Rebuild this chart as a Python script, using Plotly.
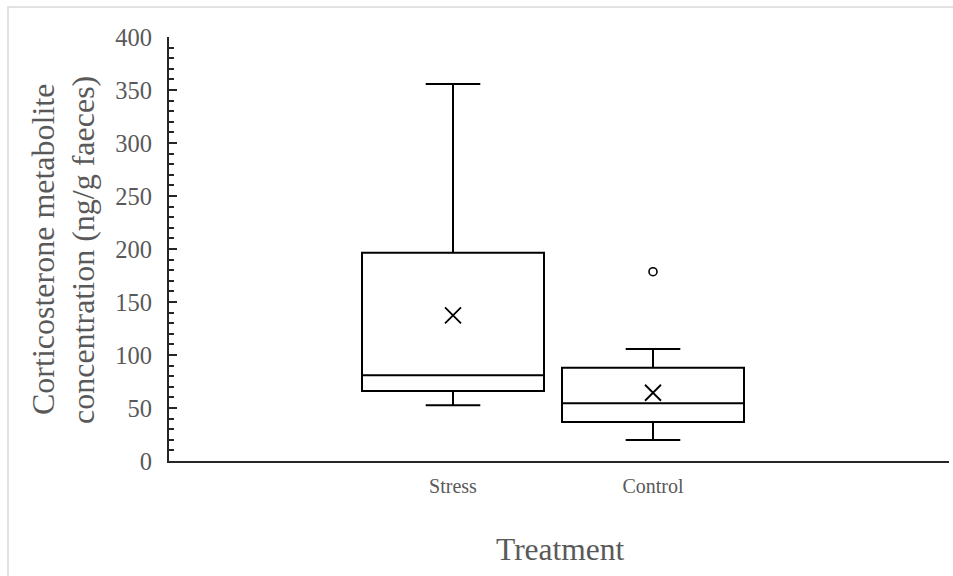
import plotly.graph_objects as go

groups = ["Stress", "Control"]
xpos = [1, 2]
q1 = [66, 36.8]
median = [80.8, 54.4]
q3 = [196.5, 88]
lower_whisker = [52.5, 19.8]
upper_whisker = [355.7, 105.7]
means = [137.4, 64.4]
outlier_group = [2]
outlier_values = [178.6]

FONT = "Liberation Serif, Times New Roman, serif"
GRAY = "#595959"

fig = go.Figure()
fig.add_trace(go.Box(
    x=xpos, q1=q1, median=median, q3=q3,
    lowerfence=lower_whisker, upperfence=upper_whisker,
    width=0.91, whiskerwidth=0.3, boxpoints=False,
    line=dict(color="black", width=2), fillcolor="rgba(255,255,255,0)",
    showlegend=False, hoverinfo="skip",
))
fig.add_trace(go.Scatter(
    x=xpos, y=means, mode="markers",
    marker=dict(symbol="x-thin", size=16, line=dict(color="black", width=1.8)),
    showlegend=False,
))
fig.add_trace(go.Scatter(
    x=outlier_group, y=outlier_values, mode="markers",
    marker=dict(symbol="circle-open", size=8, color="black", line=dict(color="black", width=1.6)),
    showlegend=False,
))

fig.update_layout(
    width=953, height=576,
    margin=dict(l=169, r=4, t=37, b=115),
    plot_bgcolor="white", paper_bgcolor="white",
    font=dict(family=FONT, color=GRAY),
    xaxis=dict(
        range=[-0.42, 3.48], tickvals=xpos, ticktext=groups,
        showline=True, linecolor="#262626", linewidth=2,
        ticks="", showgrid=False, zeroline=False,
        tickfont=dict(size=20, color=GRAY, family=FONT),
        ticklabelstandoff=6,
    ),
    yaxis=dict(
        range=[0, 400], dtick=50, tick0=0,
        showline=True, linecolor="#262626", linewidth=2,
        ticks="inside", ticklen=8, tickwidth=2, tickcolor="#262626",
        minor=dict(ticks="inside", dtick=10, ticklen=5, tickwidth=2, tickcolor="#262626"),
        showgrid=False, zeroline=False,
        tickfont=dict(size=24.5, color=GRAY, family=FONT),
        ticklabelstandoff=10,
    ),
    shapes=[dict(
        type="rect", xref="paper", yref="paper",
        x0=(8 - 169) / 780, x1=(965 - 169) / 780,
        y0=(461 - 590) / 424, y1=(461 - 7) / 424,
        line=dict(color="#d9d9d9", width=1.5), fillcolor="rgba(0,0,0,0)", layer="below",
    )],
    annotations=[
        dict(text="Corticosterone metabolite",
             xref="paper", yref="paper", x=(43 - 169) / 780, y=(461 - 250) / 424,
             xanchor="center", yanchor="middle", textangle=-90, showarrow=False,
             font=dict(size=32, color=GRAY, family=FONT)),
        dict(text="concentration (ng/g faeces)",
             xref="paper", yref="paper", x=(83 - 169) / 780, y=(461 - 250) / 424,
             xanchor="center", yanchor="middle", textangle=-90, showarrow=False,
             font=dict(size=32, color=GRAY, family=FONT)),
        dict(text="Treatment", xref="paper", yref="paper",
             x=(560 - 169) / 780, y=(461 - 549) / 424,
             xanchor="center", yanchor="middle", showarrow=False,
             font=dict(size=31.5, color=GRAY, family=FONT)),
    ],
)

fig.write_html("out.html")
